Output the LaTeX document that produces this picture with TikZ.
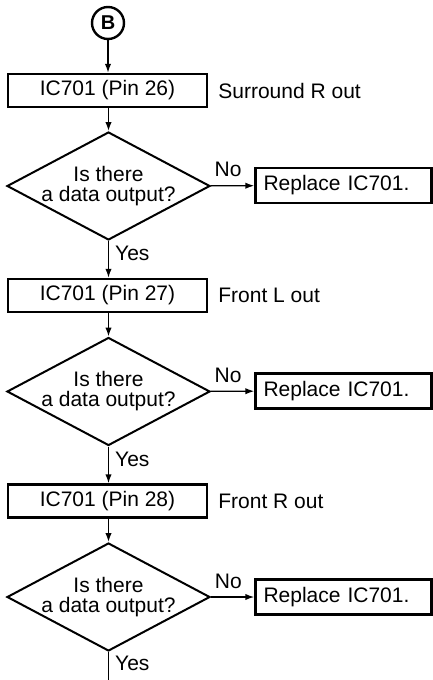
\documentclass[tikz,border=0pt]{standalone}
\usepackage{fontspec}
\setmainfont{Liberation Sans}
\usetikzlibrary{arrows.meta,positioning,shapes.geometric}

\begin{document}
\begin{tikzpicture}[
                x=0.5pt, y=-0.5pt,
                font=\fontsize{10.5}{10}\selectfont,
                box/.style={rectangle, draw=black, line width=1.2pt, minimum width=99.5pt, minimum height=16.5pt, inner sep=0pt},
                rbox/.style={rectangle, draw=black, line width=1.2pt, minimum height=17.5pt, text width=80pt, inner xsep=4pt, inner ysep=0pt, align=left},
                dia/.style={diamond, draw=black, line width=1pt, minimum width=101.5pt, minimum height=54pt, inner sep=0pt},
                conn/.style={circle, draw=black, line width=1.2pt, minimum size=16pt, inner sep=0pt, font=\bfseries\fontsize{10}{10}\selectfont},
                arr/.style={-{Latex[length=4.5pt,width=3.2pt]}, line width=0.7pt},
                note/.style={anchor=west, inner sep=0pt},
                ask/.style={align=center},
            ]
            \useasboundingbox (0,0) rectangle (433,680);
            \node[conn] (B) at (108,23) {B};
            \node[box] (pin26) at (107.5,90.5) {IC701 (Pin 26)};
            \node[note] (out26) at (218,90.5) {Surround R out};
            \node[dia, label={[ask]center:Is there\\a data output?}] (q1) at (108.5,186) {};
            \node[rbox] (rep1) at (343.5,185.5) {Replace IC701.};
            \node[box] (pin27) at (107.5,295.5) {IC701 (Pin 27)};
            \node[note] (out27) at (218,295.5) {Front L out};
            \node[dia, label={[ask]center:Is there\\a data output?}] (q2) at (108.5,391.5) {};
            \node[rbox] (rep2) at (343.5,391) {Replace IC701.};
            \node[box] (pin28) at (107.5,501) {IC701 (Pin 28)};
            \node[note] (out28) at (218,501) {Front R out};
            \node[dia, label={[ask]center:Is there\\a data output?}] (q3) at (108.5,597) {};
            \node[rbox] (rep3) at (343.5,597) {Replace IC701.};
            \coordinate (next) at (108.5,680);
            \draw[arr] (B) -- (B |- pin26.north);
            \draw[arr] (pin26.south -| q1.north) -- (q1);
            \draw[arr] (q1) -- node[above,pos=0.4,inner sep=4pt]{No} (rep1);
            \draw[arr] (q1) -- node[right,pos=0.34,inner sep=3pt]{Yes} (q1 |- pin27.north);
            \draw[arr] (pin27.south -| q2.north) -- (q2);
            \draw[arr] (q2) -- node[above,pos=0.4,inner sep=4pt]{No} (rep2);
            \draw[arr] (q2) -- node[right,pos=0.34,inner sep=3pt]{Yes} (q2 |- pin28.north);
            \draw[arr] (pin28.south -| q3.north) -- (q3);
            \draw[arr] (q3) -- node[above,pos=0.4,inner sep=4pt]{No} (rep3);
            \draw[line width=0.7pt] (q3) -- node[right,pos=0.4,inner sep=3pt]{Yes} (next);
        \end{tikzpicture}
\end{document}
